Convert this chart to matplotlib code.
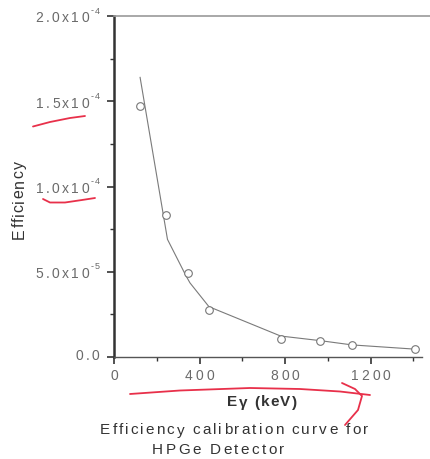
import matplotlib
matplotlib.use("Agg")
import matplotlib.pyplot as plt
from matplotlib.lines import Line2D
from matplotlib.ticker import FixedLocator
from matplotlib.font_manager import FontProperties

FAM = ['Liberation Sans', 'DejaVu Sans']
plt.rcParams['font.family'] = FAM

# data points (energy keV, efficiency)
energy = [122, 244, 344, 444, 779, 964, 1112, 1408]
eff = [1.47e-4, 8.35e-5, 4.95e-5, 2.78e-5, 1.04e-5, 9.6e-6, 6.9e-6, 4.6e-6]
# fitted curve values
fit_energy = [122, 250, 335, 355, 444, 779, 964, 1112, 1408]
fit_eff = [1.64e-4, 6.9e-5, 4.8e-5, 4.35e-5, 2.95e-5, 1.23e-5, 9.6e-6, 7.1e-6, 4.6e-6]

ytick_vals = [0.0, 5.0e-5, 1.0e-4, 1.5e-4, 2.0e-4]
ytick_base = ['0.0', '5.0x10', '1.0x10', '1.5x10', '2.0x10']
ytick_exp = ['', '-5', '-4', '-4', '-4']
xtick_vals = [0, 400, 800, 1200]
xtick_labels = ['0', '400', '800', '1200']

W, H = 431, 459
fig = plt.figure(figsize=(W / 100, H / 100), dpi=100)
ax = fig.add_axes([114 / W, 1 - 357 / H, (422 - 114) / W, (357 - 16) / H])

ax.plot(fit_energy, fit_eff, color='#7a7a7a', lw=0.8, zorder=2)
ax.plot(energy, eff, 'o', ms=5.5, mfc='white', mec='#777777', mew=0.8, zorder=3)

ax.set_xlim(0, 1440)
ax.set_ylim(0, 2.0e-4)
ax.set_xticks(xtick_vals)
ax.set_yticks(ytick_vals)
ax.xaxis.set_minor_locator(FixedLocator([200, 600, 1000, 1400]))
ax.yaxis.set_minor_locator(FixedLocator([2.5e-5, 7.5e-5, 1.25e-4, 1.75e-4]))

ax.tick_params(axis='both', which='major', direction='out', length=5, width=1.2,
               colors='#333333', labelleft=False, labelbottom=False)
ax.tick_params(axis='both', which='minor', direction='out', length=3, width=1.0,
               colors='#333333')

ax.spines['right'].set_visible(False)
ax.spines['top'].set_visible(False)
ax.spines['left'].set_color('#333333')
ax.spines['left'].set_linewidth(1.8)
ax.spines['bottom'].set_color('#555555')
ax.spines['bottom'].set_linewidth(1.0)
# top border line running to the image edge
fig.add_artist(Line2D([114 / W, 1.0], [1 - 16 / H, 1 - 16 / H], color='#999999', lw=1.2))

renderer = fig.canvas.get_renderer()


def text_width(s, fp):
    a = renderer.get_text_width_height_descent('|' + s + '|', fp, ismath=False)[0]
    b = renderer.get_text_width_height_descent('||', fp, ismath=False)[0]
    return a - b


def tracked(x, y, s, size, track, ha='center', rotation=0, weight='normal',
            color='#333333', vcenter=True):
    """Draw letter-spaced text. x, y in pixels from top-left; y is the vertical
    centre of cap height (or the baseline if vcenter is False)."""
    fp = FontProperties(family=FAM, size=size, weight=weight)
    offs = [text_width(s[:i], fp) for i in range(len(s))]
    total = text_width(s, fp) + track * (len(s) - 1)
    start = {'center': -total / 2, 'right': -total, 'left': 0}[ha]
    capshift = 0.36 * size * 100 / 72 if vcenter else 0
    for i, ch in enumerate(s):
        if ch == ' ':
            continue
        d = start + offs[i] + track * i
        if rotation == 90:
            px, py = x + capshift, (H - y) + d
        else:
            px, py = x + d, (H - y) - capshift
        fig.text(px / W, py / H, ch, ha='left', va='baseline', rotation=rotation,
                 rotation_mode='anchor', fontproperties=fp, color=color)
    return total


# y tick labels
tick_color = '#6a6a6a'
for v, base, ex in zip(ytick_vals, ytick_base, ytick_exp):
    ypix = H - ax.transData.transform((0, v))[1]
    right = 99.5
    if ex:
        fpe = FontProperties(family=FAM, size=6.5)
        ew = text_width(ex, fpe) + 1.0 * (len(ex) - 1)
        tracked(right - ew, ypix - 2.5, ex, 6.5, 1.0, ha='left', color=tick_color,
                vcenter=False)
        tracked(right - ew - 1.5, ypix + 1.5, base, 10, 2.3, ha='right', color=tick_color)
    else:
        tracked(right, ypix - 1.5, base, 10, 2.3, ha='right', color=tick_color)

# x tick labels
for v, lab in zip(xtick_vals, xtick_labels):
    xpix = ax.transData.transform((v, 0))[0]
    tracked(xpix, 375, lab, 10, 3.0, ha='center', color=tick_color)

# axis labels and caption
tracked(18, 200, 'Efficiency', 11.5, 1.0, rotation=90, color='#333333')
tracked(262, 401, 'E\u03b3 (keV)', 11, 1.3, weight='bold', color='#333333')
tracked(234, 429, 'Efficiency calibration curve for', 11, 2.1, color='#333333')
tracked(218, 449, 'HPGe Detector', 11, 2.4, color='#333333')

# red hand-drawn annotations (pixel coords)
def px(xs, ys):
    return [x / W for x in xs], [1 - y / H for y in ys]

strokes = [
    ([33, 50, 70, 85], [126.5, 122, 118, 116]),
    ([43, 50, 65, 82, 95], [199, 202.5, 202.5, 200, 198]),
    ([130, 180, 250, 300, 340, 370], [394, 390.5, 388, 389, 391.5, 395]),
    ([342, 355, 362, 358, 345], [383, 389, 396, 410, 425]),
]
for xs, ys in strokes:
    fx, fy = px(xs, ys)
    fig.add_artist(Line2D(fx, fy, color='#e8304a', lw=1.3, solid_capstyle='round'))

fig.savefig('out.png', dpi=100, facecolor='white')
